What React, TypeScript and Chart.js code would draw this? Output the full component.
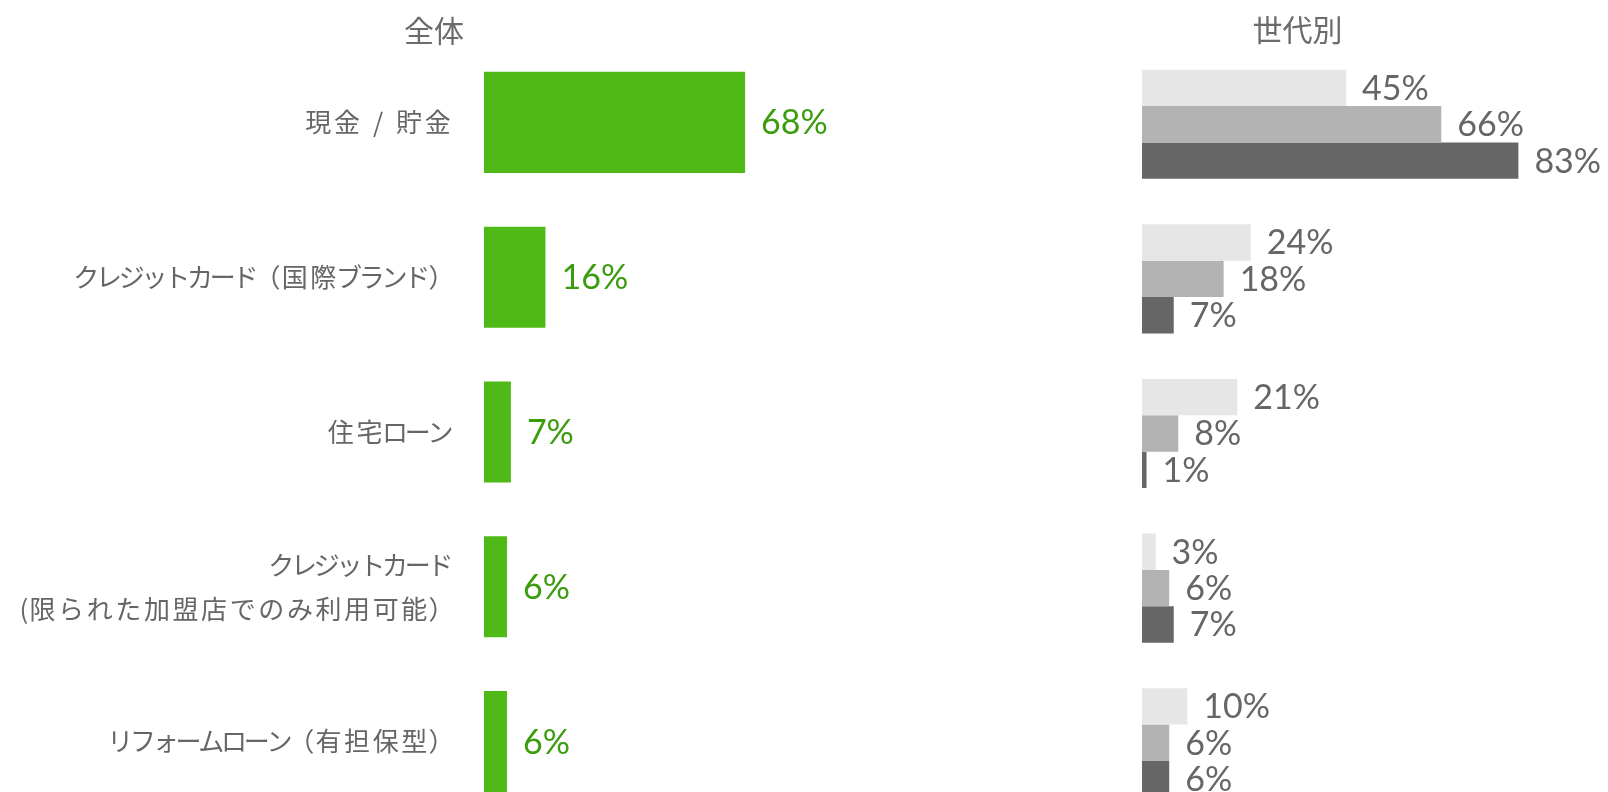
import React, { useEffect, useRef } from 'react';
import { Chart, registerables } from 'chart.js';

Chart.register(...registerables);

// ---- data ----
const categories: (string | string[])[] = [
  '現金 / 貯金',
  'クレジットカード（国際ブランド）',
  '住宅ローン',
  ['クレジットカード', '(限られた加盟店でのみ利用可能）'],
  'リフォームローン（有担保型）',
];
const totalValues = [68, 16, 7, 6, 6];
const generationNames = ['世代1', '世代2', '世代3'];
const generation1 = [45, 24, 21, 3, 10];
const generation2 = [66, 18, 8, 6, 6];
const generation3 = [83, 7, 1, 7, 6];
const leftTitle = '全体';
const rightTitle = '世代別';

const CJK = '"Noto Sans CJK JP", "Noto Sans", sans-serif';
const NUM = 'Lato, "Open Sans", sans-serif';

// proportional-style Japanese text: narrower katakana, roomier kanji / hiragana
function glyphMetrics(ctx: CanvasRenderingContext2D, ch: string, size: number) {
  const w = ctx.measureText(ch).width;
  const c = ch.codePointAt(0) || 0;
  if (c >= 0x30a0 && c <= 0x30ff) return { adv: w * 0.875, off: -w * 0.0625 };
  if ((c >= 0x3040 && c <= 0x309f) || (c >= 0x4e00 && c <= 0x9fff)) return { adv: w * 1.1, off: w * 0.05 };
  if (ch === '（') return { adv: w * 0.9, off: -w * 0.1 };
  if (ch === '）') return { adv: w * 0.9, off: 0 };
  if (ch === ' ') return { adv: size * 0.45, off: 0 };
  return { adv: w, off: 0 };
}

const categoryLabels = {
  id: 'categoryLabels',
  afterDraw(chart: any, _args: any, opts: any) {
    const { ctx } = chart;
    const yScale = chart.scales.y;
    ctx.save();
    ctx.font = `${opts.size}px ${opts.family}`;
    ctx.fillStyle = opts.color;
    ctx.textAlign = 'left';
    ctx.textBaseline = 'middle';
    const right = chart.chartArea.left - opts.padding;
    (chart.data.labels as any[]).forEach((label: any, i: number) => {
      const lines: string[] = Array.isArray(label) ? label : [label];
      const cy = yScale.getPixelForTick(i);
      lines.forEach((line, j) => {
        const chars = Array.from(line);
        const ms = chars.map((ch) => glyphMetrics(ctx, ch, opts.size));
        const total = ms.reduce((s, m) => s + m.adv, 0);
        let x = right - total;
        const y = cy + (j - (lines.length - 1) / 2) * opts.lineHeight;
        chars.forEach((ch, k) => {
          ctx.fillText(ch, x + ms[k].off, y);
          x += ms[k].adv;
        });
      });
    });
    ctx.restore();
  },
};

const valueLabels = {
  id: 'valueLabels',
  afterDatasetsDraw(chart: any, _args: any, opts: any) {
    const { ctx } = chart;
    ctx.save();
    ctx.font = opts.font;
    ctx.fillStyle = opts.color;
    ctx.textAlign = 'left';
    ctx.textBaseline = 'middle';
    chart.data.datasets.forEach((ds: any, di: number) => {
      const meta = chart.getDatasetMeta(di);
      meta.data.forEach((bar: any, i: number) => {
        ctx.fillText(`${ds.data[i]}%`, bar.x + opts.gap, bar.y + (opts.dy || 0));
      });
    });
    ctx.restore();
  },
};

const headerText = {
  id: 'headerText',
  afterDraw(chart: any, _args: any, opts: any) {
    const { ctx } = chart;
    ctx.save();
    ctx.font = opts.font;
    ctx.fillStyle = opts.color;
    ctx.textAlign = 'center';
    ctx.textBaseline = 'middle';
    ctx.fillText(opts.text, opts.x, chart.chartArea.top - opts.offset);
    ctx.restore();
  },
};

export default function App() {
  const leftRef = useRef<HTMLCanvasElement>(null);
  const rightRef = useRef<HTMLCanvasElement>(null);

  useEffect(() => {
    const left = new Chart(leftRef.current!, {
      type: 'bar',
      data: {
        labels: categories as any,
        datasets: [
          {
            label: leftTitle,
            data: totalValues,
            backgroundColor: '#4fba17',
            borderWidth: 0,
            barPercentage: 0.653,
            categoryPercentage: 1,
          },
        ],
      },
      plugins: [valueLabels, headerText, categoryLabels],
      options: {
        indexAxis: 'y',
        responsive: false,
        animation: false,
        layout: { padding: { top: 45, bottom: 0, left: 0, right: 0 } },
        scales: {
          x: { display: false, min: 0, max: 100 },
          y: {
            grid: { display: false },
            border: { display: false },
            ticks: { display: false },
            afterFit: (scale: any) => {
              scale.width = 484;
              scale.paddingTop = 0;
              scale.paddingBottom = 0;
            },
          },
        },
        plugins: {
          legend: { display: false },
          tooltip: { enabled: false },
          valueLabels: { font: `34px ${NUM}`, color: '#3b9c0e', gap: 16, dy: 1 },
          headerText: { text: leftTitle, x: 434, offset: 14, font: `30px ${CJK}`, color: '#6b6b6b' },
          categoryLabels: { family: CJK, size: 26, lineHeight: 44, padding: 32, color: '#666666' },
        } as any,
      },
    });

    const right = new Chart(rightRef.current!, {
      type: 'bar',
      data: {
        labels: categories as any,
        datasets: [
          { label: generationNames[0], data: generation1, backgroundColor: '#e6e6e6' },
          { label: generationNames[1], data: generation2, backgroundColor: '#b3b3b3' },
          { label: generationNames[2], data: generation3, backgroundColor: '#666666' },
        ].map((d) => ({ ...d, borderWidth: 0, barPercentage: 1, categoryPercentage: 0.706 })),
      },
      plugins: [valueLabels, headerText],
      options: {
        indexAxis: 'y',
        responsive: false,
        animation: false,
        layout: { padding: { top: 47, bottom: 0, left: 42, right: 12.5 } },
        scales: {
          x: { display: false, min: 0, max: 100 },
          y: { display: false },
        },
        plugins: {
          legend: { display: false },
          tooltip: { enabled: false },
          valueLabels: { font: `34px ${NUM}`, color: '#666666', gap: 16, dy: 1 },
          headerText: { text: rightTitle, x: 197.5, offset: 17, font: `30px ${CJK}`, color: '#6b6b6b' },
        } as any,
      },
    });

    return () => {
      left.destroy();
      right.destroy();
    };
  }, []);

  return (
    <div
      style={{
        position: 'fixed',
        left: 0,
        top: 0,
        width: 1608,
        height: 792,
        overflow: 'hidden',
        background: '#ffffff',
      }}
    >
      <canvas ref={leftRef} width={868} height={819} style={{ position: 'absolute', left: 0, top: 0 }} />
      <canvas ref={rightRef} width={508} height={820} style={{ position: 'absolute', left: 1100, top: 0 }} />
    </div>
  );
}
